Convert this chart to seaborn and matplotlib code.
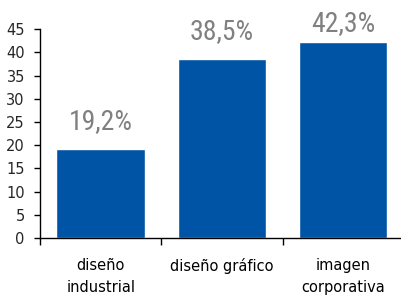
import pandas as pd
import matplotlib.pyplot as plt
import seaborn as sns

categories = ['diseño\nindustrial', 'diseño gráfico', 'imagen\ncorporativa']
values = [19.2, 38.5, 42.3]
value_labels = ['19,2%', '38,5%', '42,3%']
y_ticks = [0, 5, 10, 15, 20, 25, 30, 35, 40, 45]

sns.set_theme(style='ticks')
plt.rcParams['font.family'] = ['DejaVu Sans']

df = pd.DataFrame({'categoria': categories, 'valor': values})

fig = plt.figure(figsize=(4.01, 2.95), dpi=100)
ax = fig.add_axes([0.1, 0.193, 0.907, 0.708])
sns.barplot(data=df, x='categoria', y='valor', color='#0054A6',
            saturation=1, width=0.73, ax=ax)

# etiquetas de valor encima de cada barra (la ultima queda pegada al borde)
for patch, label in zip(ax.patches, value_labels):
    y = min(patch.get_height() + 3.1, 43.4)
    ax.text(patch.get_x() + patch.get_width() / 2, y,
            label, ha='center', va='bottom', fontsize=20, color='#808080',
            family=['Roboto Condensed', 'Liberation Sans Narrow',
                    'Archivo Narrow', 'DejaVu Sans'])

ax.set_ylim(0, 45)
ax.set_xlim(-0.5, 2.5)
ax.set_yticks(y_ticks)
ax.set_xticks([-0.5, 0.5, 1.5, 2.5], minor=True)
for lbl in ax.get_xticklabels():
    lbl.set_linespacing(1.6)
ax.tick_params(axis='x', which='major', length=0, pad=14, labelsize=10.5,
               colors='black')
ax.tick_params(axis='x', which='minor', length=5, width=1, color='black')
ax.tick_params(axis='y', length=4, width=1, labelsize=10.5, color='black',
               pad=7)
ax.set_xlabel('')
ax.set_ylabel('')
for side in ['top', 'right']:
    ax.spines[side].set_visible(False)
for side in ['left', 'bottom']:
    ax.spines[side].set_color('black')
    ax.spines[side].set_linewidth(1)

fig.savefig('out.png', dpi=100)
